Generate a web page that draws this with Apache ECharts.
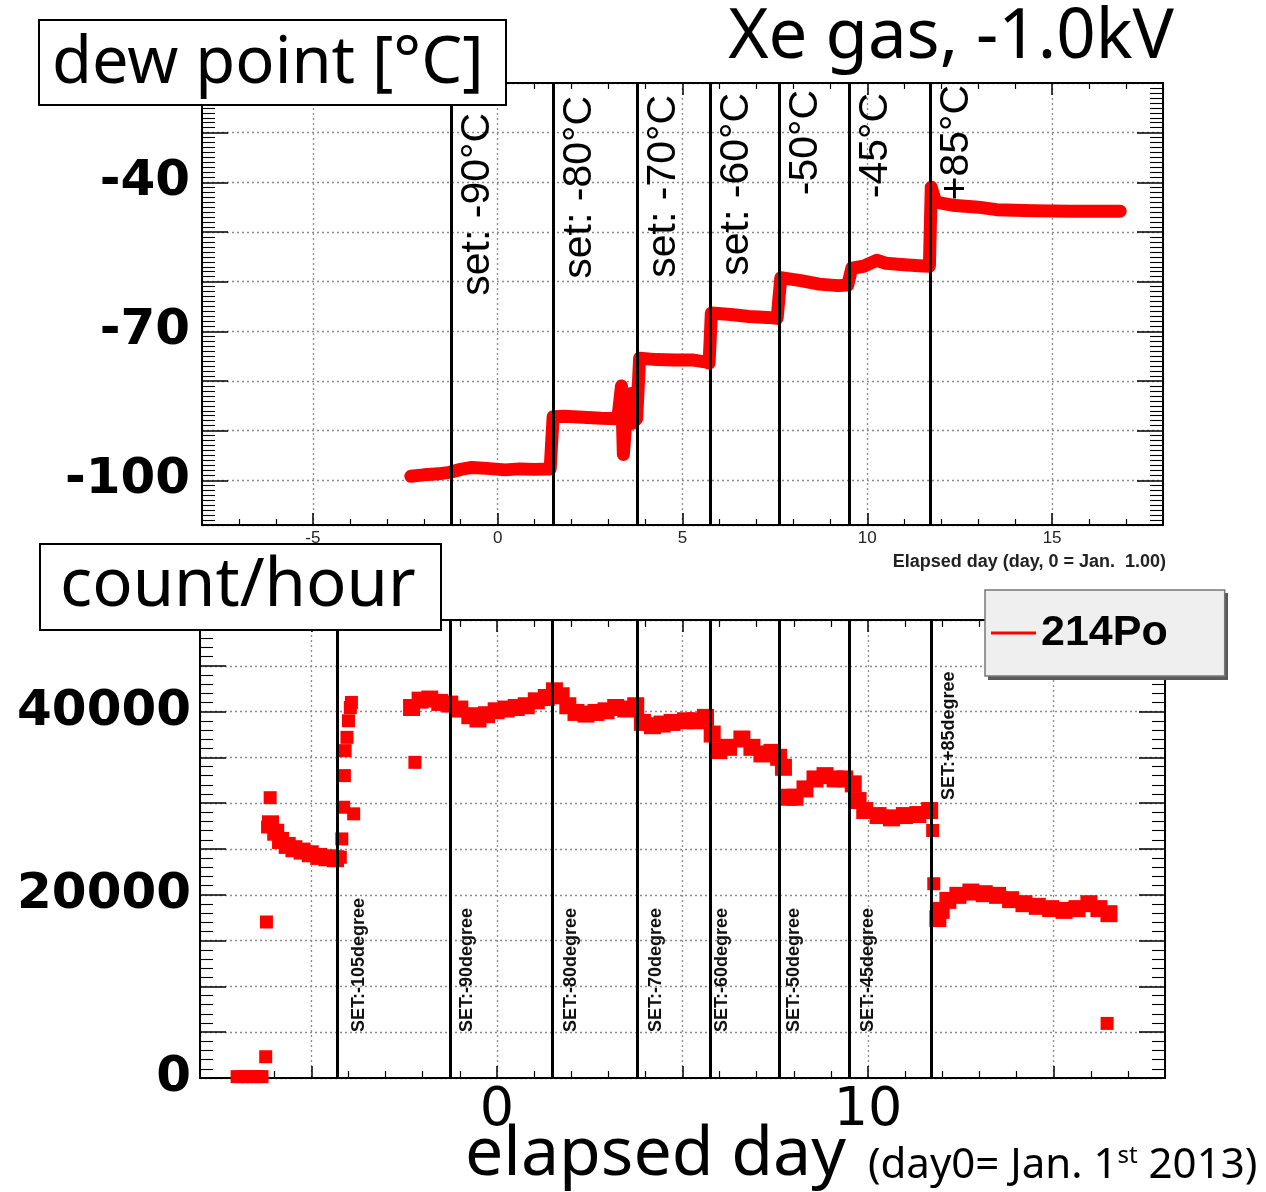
<!DOCTYPE html>
<html>
<head>
<meta charset="utf-8">
<script src="https://cdn.jsdelivr.net/npm/echarts@6/dist/echarts.min.js"></script>
<style>
  html, body { margin: 0; padding: 0; background: #ffffff; }
  #chart { width: 1266px; height: 1192px; }
</style>
</head>
<body>
<div id="chart"></div>
<script>
// ---- dew point of the Xe gas (elapsed day, degC) ----
const dewDays = [-2.35, -2.0, -1.6, -1.3, -1.0, -0.7, -0.3, 0.2, 0.6, 1.0, 1.42,
  1.5, 1.8, 2.3, 2.8, 3.25, 3.35, 3.4, 3.47, 3.55, 3.6, 3.65, 3.76,
  3.84, 4.3, 4.8, 5.3, 5.65, 5.72,
  5.78, 6.3, 6.8, 7.3, 7.56,
  7.66, 8.2, 8.7, 9.2, 9.47,
  9.58, 9.9, 10.25, 10.5, 11.0, 11.4, 11.68,
  11.73, 11.85, 12.3, 13.0, 13.5, 14.5, 15.5, 16.84];
const dewValues = [-99.2, -98.9, -98.7, -98.4, -97.8, -97.4, -97.6, -97.9, -97.7, -97.8, -97.7,
  -87.2, -87.1, -87.3, -87.5, -87.6, -81.0, -94.8, -87.9, -87.6, -82.5, -88.5, -87.6,
  -75.4, -75.7, -75.8, -75.8, -76.2, -76.4,
  -66.3, -66.6, -67.0, -67.2, -67.4,
  -59.2, -59.8, -60.5, -60.8, -60.7,
  -57.3, -56.9, -55.7, -56.3, -56.6, -56.8, -56.9,
  -41.0, -44.0, -44.6, -45.0, -45.5, -45.7, -45.8, -45.8];

// ---- 214Po count rate (elapsed day, count/hour): steady runs ----
const poDays = [
  -6.10, -5.96, -5.83, -5.65, -5.47, -5.25, -5.03, -4.80, -4.58, -4.35,
  -2.30, -2.07, -1.81, -1.54, -1.27, -1.0, -0.73, -0.51, -0.28, -0.02, 0.25, 0.52, 0.79,
  1.06, 1.33, 1.55, 1.73, 1.91, 2.13, 2.40, 2.67, 2.94, 3.20, 3.47, 3.74, 3.92, 4.19,
  4.45, 4.72, 5.08, 5.35, 5.62, 5.80, 5.98, 6.24, 6.60, 6.87, 7.14, 7.41, 7.59, 7.72,
  7.85, 8.03, 8.30, 8.57, 8.84, 9.11, 9.37, 9.60, 9.73, 9.91, 10.27, 10.63, 10.98, 11.34, 11.66,
  11.88, 11.97, 12.15, 12.42, 12.77, 13.13, 13.49, 13.84, 14.20, 14.56, 14.92, 15.28, 15.63,
  15.95, 16.22, 16.49];
const poCounts = [
  27750, 26830, 25930, 25390, 25030, 24770, 24480, 24190, 24040, 23940,
  40450, 41250, 41370, 41000, 40820, 40280, 39550, 39190, 39660, 40090, 40280, 40450, 40640,
  41180, 41540, 42270, 41730, 40640, 39910, 39730, 39910, 40090, 40450, 40280, 40640, 38820, 38460,
  38640, 38820, 39000, 39000, 39370, 37550, 35740, 36100, 37010, 36100, 35380, 35550, 35010, 33920,
  30650, 30650, 31560, 32650, 33010, 32650, 32650, 32110, 30290, 29200, 28650, 28400, 28650, 28760, 29200,
  17400, 18300, 19390, 19940, 20300, 20120, 19940, 19470, 19030, 18740, 18490, 18300, 18490,
  19030, 18490, 17940];

// ---- 214Po count rate: single hourly readings off the steady runs ----
const poStrayDays = [-7.0, -6.86, -6.72, -6.58, -6.44, -6.33,
  -6.23, -6.21, -6.11, -6.18,
  -4.22, -4.18, -3.86, -4.13, -4.11, -4.09, -4.04, -4.0, -3.95, -3.92,
  -2.21, 11.74, 11.77, 16.44];
const poStrayCounts = [150, 150, 150, 150, 150, 150,
  2320, 17030, 30600, 27400,
  24100, 26100, 28840, 29560, 33010, 35740, 37190, 39000, 40450, 41000,
  34460, 27020, 21210, 5960];

// ---- cooler set-point changes (elapsed day) ----
const setDays = [-1.25, 1.5, 3.78, 5.74, 7.62, 9.5, 11.71];
const setLabelsTop = ['set: -90°C', 'set: -80°C', 'set: -70°C', 'set: -60°C', '-50°C', '-45°C', '+85°C'];
const setDaysBottom = [-4.31].concat(setDays);
const setLabelsBottom = ['SET:-105degree', 'SET:-90degree', 'SET:-80degree', 'SET:-70degree',
  'SET:-60degree', 'SET:-50degree', 'SET:-45degree', 'SET:+85degree'];

// ---- tick labels that are printed ----
const dewTickLabels = [-40, -70, -100];
const countTickLabels = [0, 20000, 40000];
const dayTickLabelsTop = [-5, 0, 5, 10, 15];
const dayTickLabelsBottom = [0, 10];

// label placement along / across each set-point line (px)
const topLabelOffset = [[30, 6], [13, 6], [12, 6], [10, 6], [7, 6], [10, 6], [2, 6]];
const bottomLabelOffset = [[46, 13], [46, 8], [46, 9], [46, 10], [46, 3], [46, 5], [46, 10], [278, 8]];

const HV = 'Liberation Sans';
const BOLDNUM = 'DejaVu Sans';
const LIGHT = 'Noto Sans';
const RED = '#ff0000';

function dotted() {
  return { show: true, lineStyle: { color: '#8c8c8c', width: 1.3, type: [2, 3] } };
}

function xAxes(gridIndex, labelCfg, tickLen, minorLen) {
  const base = {
    type: 'value', gridIndex: gridIndex, min: -8, max: 18, splitNumber: 5,
    axisLine: { show: true, onZero: false, lineStyle: { color: '#000', width: 2 } },
    axisTick: { show: true, inside: true, length: tickLen, lineStyle: { color: '#000', width: 1.5 } },
    minorTick: { show: true, splitNumber: 5, length: minorLen, lineStyle: { color: '#000', width: 1.2 } },
    splitArea: { show: false }
  };
  return [
    Object.assign({}, base, { position: 'bottom', axisLabel: labelCfg, splitLine: dotted() }),
    Object.assign({}, base, { position: 'top', axisLabel: { show: false }, splitLine: { show: false } })
  ];
}

function yAxes(gridIndex, range, labelCfg, minorSplit) {
  const base = Object.assign({
    type: 'value', gridIndex: gridIndex,
    axisLine: { show: true, onZero: false, lineStyle: { color: '#000', width: 2 } },
    axisTick: { show: true, inside: true, length: 26, lineStyle: { color: '#000', width: 1.5 } },
    minorTick: { show: true, splitNumber: minorSplit, length: 13, lineStyle: { color: '#000', width: 1.1 } },
    splitArea: { show: false }
  }, range);
  return [
    Object.assign({}, base, { position: 'left', axisLabel: labelCfg, splitLine: dotted() }),
    Object.assign({}, base, { position: 'right', axisLabel: { show: false }, splitLine: { show: false } })
  ];
}

const xTop = xAxes(0, {
  show: true, margin: 5, fontSize: 17, fontFamily: HV, color: '#222',
  formatter: v => (dayTickLabelsTop.indexOf(v) >= 0 ? String(v) : '')
}, 12, 6);
const xBottom = xAxes(1, {
  show: true, margin: 6, fontSize: 54, fontFamily: BOLDNUM, color: '#000',
  formatter: v => (dayTickLabelsBottom.indexOf(v) >= 0 ? String(v) : '')
}, 12, 7);
const yTop = yAxes(0, { min: -109, max: -20, splitNumber: 9 }, {
  show: true, margin: 12, fontSize: 50, fontWeight: 'bold', fontFamily: BOLDNUM, color: '#000',
  formatter: v => (dewTickLabels.indexOf(v) >= 0 ? String(v) : '')
}, 10);
const yBottom = yAxes(1, { min: 0, max: 50000, interval: 5000 }, {
  show: true, margin: 9, fontSize: 50, fontWeight: 'bold', fontFamily: BOLDNUM, color: '#000',
  formatter: v => (countTickLabels.indexOf(v) >= 0 ? String(v) : '')
}, 5);

const setLineStyle = { color: '#000', width: 3, type: 'solid' };

const option = {
  animation: false,
  backgroundColor: '#ffffff',
  grid: [
    { left: 202, top: 83, width: 961, height: 442, containLabel: false },
    { left: 200, top: 620, width: 965, height: 458, containLabel: false }
  ],
  xAxis: [xTop[0], xTop[1], xBottom[0], xBottom[1]],
  yAxis: [yTop[0], yTop[1], yBottom[0], yBottom[1]],
  title: [
    {
      text: 'dew point [°C]', left: 39, top: 20,
      padding: [12, 23, 9, 13],
      borderColor: '#000', borderWidth: 2, backgroundColor: '#fff',
      textStyle: { fontFamily: LIGHT, fontWeight: 'normal', fontSize: 65, lineHeight: 64, color: '#000' }
    },
    {
      text: 'Xe gas, -1.0kV', right: 92, top: 5, padding: 0,
      textStyle: { fontFamily: LIGHT, fontWeight: 'normal', fontSize: 69, lineHeight: 66, color: '#000' }
    },
    {
      text: 'count/hour', left: 40, top: 545,
      padding: [10, 26, 10, 20],
      borderColor: '#000', borderWidth: 2, backgroundColor: '#fff',
      textStyle: { fontFamily: LIGHT, fontWeight: 'normal', fontSize: 67, lineHeight: 64, color: '#000' }
    },
    {
      text: 'Elapsed day (day, 0 = Jan.  1.00)', right: 100, top: 552, padding: 0,
      textStyle: { fontFamily: HV, fontWeight: 'bold', fontSize: 18, lineHeight: 20, color: '#222' }
    },
    {
      text: '{a|elapsed day}{b0|(day0= Jan. 1}{c|st}{b| 2013)}', left: 465, top: 1126, padding: 0,
      textStyle: {
        fontFamily: LIGHT, fontWeight: 'normal', fontSize: 42, color: '#000',
        rich: {
          a: { fontFamily: LIGHT, fontWeight: 'normal', fontSize: 68, lineHeight: 64, verticalAlign: 'bottom', color: '#000' },
          b0: { fontFamily: LIGHT, fontWeight: 'normal', fontSize: 42, lineHeight: 42, verticalAlign: 'bottom', padding: [0, 0, 3, 22], color: '#000' },
          b: { fontFamily: LIGHT, fontWeight: 'normal', fontSize: 42, lineHeight: 42, verticalAlign: 'bottom', padding: [0, 0, 3, 0], color: '#000' },
          c: { fontFamily: LIGHT, fontWeight: 'normal', fontSize: 24, lineHeight: 24, verticalAlign: 'bottom', padding: [0, 0, 22, 0], color: '#000' }
        }
      }
    }
  ],
  // drop shadow of the legend box
  graphic: [
    { type: 'rect', left: 988, top: 593, shape: { width: 240, height: 87 }, style: { fill: '#5a5a5a' }, z: 15, silent: true }
  ],
  legend: {
    show: true, left: 985, top: 590, orient: 'horizontal',
    padding: [20, 57, 20, 6], itemWidth: 45, itemHeight: 3, itemGap: 0,
    selectedMode: false,
    backgroundColor: '#efefef', borderColor: '#777', borderWidth: 1.5,
    textStyle: { fontFamily: HV, fontWeight: 'bold', fontSize: 43, lineHeight: 46, color: '#000' },
    data: [{ name: '214Po', icon: 'rect' }],
    z: 20
  },
  series: [
    {
      name: 'dew point', type: 'line', xAxisIndex: 0, yAxisIndex: 0,
      data: dewDays.map((d, i) => [d, dewValues[i]]),
      showSymbol: false, symbol: 'none', smooth: false,
      lineStyle: { color: RED, width: 13, cap: 'round', join: 'round' },
      z: 3,
      markLine: {
        silent: true, symbol: ['none', 'none'], animation: false,
        lineStyle: setLineStyle,
        label: { show: true, position: 'insideEndBottom', fontFamily: HV, fontSize: 41, color: '#000' },
        emphasis: { disabled: true },
        data: setDays.map((d, i) => ({
          xAxis: d,
          label: { formatter: setLabelsTop[i], distance: topLabelOffset[i] }
        }))
      }
    },
    {
      name: '214Po', type: 'scatter', xAxisIndex: 2, yAxisIndex: 2,
      data: poDays.map((d, i) => [d, poCounts[i]]),
      symbol: 'rect', symbolSize: 17, clip: false,
      itemStyle: { color: RED, opacity: 1 },
      z: 3,
      markLine: {
        silent: true, symbol: ['none', 'none'], animation: false,
        lineStyle: setLineStyle,
        label: { show: true, position: 'insideStartBottom', fontFamily: HV, fontWeight: 'bold', fontSize: 18, color: '#111' },
        emphasis: { disabled: true },
        data: setDaysBottom.map((d, i) => ({
          xAxis: d,
          label: { formatter: setLabelsBottom[i], distance: bottomLabelOffset[i] }
        }))
      }
    },
    {
      name: '214Po', type: 'scatter', xAxisIndex: 2, yAxisIndex: 2,
      data: poStrayDays.map((d, i) => [d, poStrayCounts[i]]),
      symbol: 'rect', symbolSize: 13, clip: false,
      itemStyle: { color: RED, opacity: 1 },
      z: 3
    }
  ]
};

const chart = echarts.init(document.getElementById('chart'), null, { renderer: 'canvas' });
chart.setOption(option);
</script>
</body>
</html>
